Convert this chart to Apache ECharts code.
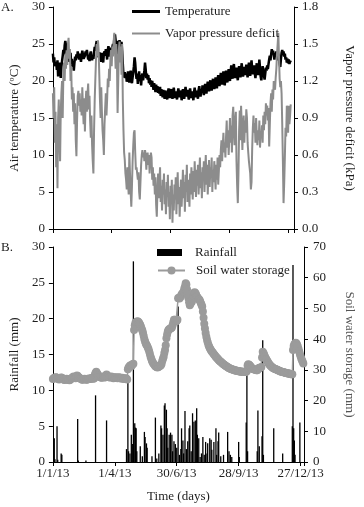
<!DOCTYPE html>
<html>
<head>
<meta charset="utf-8">
<script src="https://cdn.jsdelivr.net/npm/echarts@6/dist/echarts.min.js"></script>
<style>
  html, body { margin: 0; padding: 0; background: #fff; }
  #chart { width: 364px; height: 507px; }
</style>
</head>
<body>
<div id="chart"></div>
<script>
// daily values, day 0 = 1/1/13
const temperature = [
  23.7, 22.5, 23.2, 22.0, 21.9, 22.6, 21.5, 22.8, 20.6, 22.3,
  21.2, 22.5, 20.4, 21.9, 22.7, 23.4, 24.2, 23.5, 24.8, 25.4,
  25.2, 24.1, 23.2, 23.9, 22.6, 23.5, 22.8, 23.8, 22.3, 23.0,
  21.9, 22.4, 21.4, 22.5, 23.3, 22.8, 23.6, 23.1, 24.0, 23.4,
  22.9, 23.7, 23.2, 22.6, 23.5, 24.1, 23.6, 23.0, 22.8, 23.4,
  24.0, 23.7, 24.2, 23.5, 22.9, 23.3, 22.7, 23.6, 24.0, 23.3,
  22.8, 23.5, 23.0, 23.9, 24.6, 24.1, 24.9, 25.4, 24.6, 23.6,
  23.2, 23.9, 22.8, 23.5, 22.6, 23.8, 23.2, 22.5, 23.7, 24.0,
  23.4, 24.3, 23.8, 22.9, 24.2, 24.7, 24.0, 23.3, 24.5, 24.1,
  23.5, 24.6, 25.0, 24.4, 25.8, 26.3, 25.5, 24.2, 23.6, 24.8,
  25.4, 24.9, 25.5, 25.2, 24.6, 25.3, 24.0, 22.3, 20.8, 20.5,
  21.2, 20.4, 21.0, 19.9, 20.7, 21.3, 20.2, 19.8, 20.6, 21.4,
  20.3, 19.7, 20.5, 21.2, 22.0, 23.2, 22.4, 21.1, 20.3, 21.0,
  19.6, 20.5, 21.3, 20.0, 20.8, 19.4, 20.6, 21.0, 20.1, 20.7,
  21.4, 22.5, 21.6, 20.4, 21.0, 20.2, 20.8, 19.7, 20.4, 19.5,
  20.1, 19.2, 20.0, 19.4, 18.8, 19.7, 19.1, 18.5, 19.5, 18.7,
  19.3, 18.4, 19.0, 18.3, 19.2, 18.0, 18.9, 18.4, 17.8, 18.8,
  18.2, 17.6, 18.7, 18.9, 18.1, 17.5, 18.4, 19.0, 18.2, 17.7,
  18.6, 18.9, 18.0, 17.6, 18.5, 19.1, 18.3, 17.7, 18.6, 18.1,
  17.5, 18.4, 19.0, 18.2, 17.8, 18.7, 18.3, 17.4, 18.2, 18.9,
  18.0, 17.6, 18.5, 19.2, 18.4, 17.9, 18.8, 18.1, 17.5, 18.3,
  19.0, 18.2, 17.7, 18.6, 18.0, 17.4, 18.5, 19.1, 18.3, 17.8,
  18.7, 18.2, 17.6, 18.8, 19.3, 18.5, 17.9, 18.9, 18.4, 19.4,
  18.6, 18.1, 19.0, 19.6, 18.8, 18.3, 19.3, 19.9, 19.1, 18.6,
  19.5, 20.1, 19.2, 18.7, 19.6, 20.3, 19.4, 18.9, 19.8, 20.5,
  19.6, 19.0, 20.2, 20.8, 19.9, 19.3, 20.4, 21.1, 20.2, 19.5,
  20.6, 21.3, 20.0, 19.4, 20.7, 21.4, 20.5, 19.8, 20.9, 21.6,
  20.6, 20.0, 21.2, 22.1, 21.0, 20.3, 21.5, 22.3, 21.2, 20.4,
  21.0, 21.8, 20.7, 20.1, 21.3, 22.0, 21.1, 20.5, 21.7, 22.4,
  21.3, 20.6, 21.2, 21.9, 20.8, 21.5, 22.2, 21.2, 20.5, 21.6,
  22.5, 21.4, 20.7, 21.9, 22.8, 21.6, 20.9, 21.3, 22.1, 21.0,
  20.4, 21.5, 22.4, 21.3, 20.8, 21.8, 22.9, 21.7, 20.6, 20.1,
  21.0, 22.0, 21.4, 21.3, 20.2, 21.0, 21.8, 21.4, 22.1, 21.6,
  22.3, 22.9, 23.4, 22.8, 23.6, 24.3, 23.7, 24.1, 23.5, 22.9,
  23.8, 23.3, 24.0, 23.4, 22.8, 23.7, 23.2, 22.3, 21.9, 23.0,
  23.8, 24.2, 23.5, 24.0, 23.3, 23.7, 22.9, 23.2, 22.5, 23.0,
  22.4, 22.9, 22.3, 22.7, 22.5
];

const vpd = [
  1.10, 0.90, 1.15, 0.70, 0.95, 0.50, 0.85, 0.33, 0.90, 1.05,
  0.75, 0.55, 0.95, 1.10, 1.20, 0.90, 1.25, 1.35, 1.20, 1.42,
  1.30, 1.45, 1.33, 1.50, 1.55, 1.38, 1.46, 1.20, 1.32, 1.05,
  1.15, 0.95, 1.10, 0.85, 1.02, 0.72, 0.59, 0.88, 1.08, 1.12,
  1.00, 1.10, 0.95, 1.05, 0.92, 1.15, 0.98, 0.85, 1.06, 0.79,
  1.02, 1.12, 0.95, 1.10, 1.18, 0.97, 1.08, 0.88, 0.74, 0.92,
  0.68, 0.55, 0.45, 0.80, 1.05, 1.22, 1.38, 1.50, 1.40, 1.53,
  1.45, 1.25, 1.05, 0.90, 1.15, 0.95, 0.80, 0.72, 0.60, 0.85,
  0.98, 1.10, 0.92, 1.05, 1.22, 1.15, 1.30, 1.20, 1.38, 1.45,
  1.32, 1.48, 1.40, 1.52, 1.59, 1.46, 1.30, 1.50, 1.38, 0.94,
  1.20, 1.45, 1.52, 1.35, 1.48, 1.25, 1.50, 1.05, 0.80, 0.62,
  0.56, 0.45, 0.40, 0.32, 0.50, 0.38, 0.28, 0.62, 0.45, 0.30,
  0.18, 0.35, 0.55, 0.68, 0.78, 0.80, 0.62, 0.48, 0.50, 0.45,
  0.40, 0.46, 0.30, 0.24, 0.38, 0.52, 0.60, 0.64, 0.58, 0.62,
  0.55, 0.64, 0.60, 0.48, 0.58, 0.62, 0.52, 0.60, 0.45, 0.56,
  0.62, 0.58, 0.40, 0.50, 0.35, 0.45, 0.28, 0.42, 0.20, 0.10,
  0.30, 0.45, 0.25, 0.38, 0.50, 0.22, 0.35, 0.15, 0.40, 0.28,
  0.45, 0.20, 0.32, 0.12, 0.38, 0.26, 0.44, 0.18, 0.30, 0.08,
  0.35, 0.22, 0.40, 0.05, 0.28, 0.15, 0.36, 0.24, 0.42, 0.12,
  0.30, 0.46, 0.20, 0.34, 0.10, 0.28, 0.40, 0.18, 0.32, 0.48,
  0.25, 0.38, 0.14, 0.44, 0.30, 0.52, 0.22, 0.40, 0.33, 0.18,
  0.45, 0.28, 0.50, 0.36, 0.24, 0.47, 0.30, 0.55, 0.38, 0.26,
  0.48, 0.35, 0.52, 0.28, 0.44, 0.58, 0.33, 0.46, 0.25, 0.50,
  0.40, 0.55, 0.30, 0.48, 0.60, 0.36, 0.52, 0.28, 0.45, 0.56,
  0.34, 0.50, 0.42, 0.58, 0.30, 0.48, 0.38, 0.55, 0.44, 0.32,
  0.52, 0.40, 0.58, 0.36, 0.47, 0.60, 0.50, 0.64, 0.72, 0.55,
  0.68, 0.78, 0.62, 0.70, 0.58, 0.75, 0.88, 0.66, 0.80, 0.60,
  0.74, 0.90, 0.70, 0.84, 0.62, 0.92, 0.99, 0.80, 0.68, 0.88,
  0.95, 0.55, 0.35, 0.21, 0.45, 0.80, 0.96, 0.72, 1.00, 0.85,
  0.64, 0.82, 0.92, 0.70, 0.88, 0.78, 0.97, 0.90, 0.70, 0.62,
  0.55, 0.50, 0.45, 0.32, 0.38, 0.65, 0.82, 0.92, 0.78, 0.86,
  0.70, 0.90, 0.76, 0.68, 0.80, 0.72, 0.88, 0.66, 0.78, 0.74,
  0.84, 0.70, 0.92, 0.80, 0.95, 0.85, 1.02, 0.92, 1.00, 0.88,
  0.98, 0.67, 0.85, 1.02, 1.10, 0.95, 1.13, 1.05, 1.20, 1.15,
  1.13, 1.23, 1.30, 1.42, 1.50, 1.59, 1.40, 1.22, 1.15, 1.20,
  1.10, 0.85, 0.55, 0.21, 0.37, 0.58, 0.82, 0.75, 1.00, 0.98,
  0.78, 1.00, 0.85, 0.92, 1.01
];

const soilStorage = [
  27.0, 27.2, 27.4, 27.3, 27.6, 27.5, 27.4, 27.2, 27.0, 26.9,
  27.1, 27.3, 27.5, 27.4, 27.2, 27.0, 26.8, 26.7, 26.9, 27.0,
  27.1, 27.0, 26.8, 26.7, 26.6, 26.8, 27.0, 27.2, 27.4, 27.6,
  27.8, 27.6, 27.4, 27.3, 27.7, 28.2, 28.0, 27.7, 27.5, 27.3,
  27.2, 27.0, 26.9, 26.8, 26.9, 27.0, 27.1, 27.0, 26.9, 26.8,
  26.9, 27.0, 27.2, 27.1, 27.0, 27.1, 27.3, 27.4, 27.2, 27.1,
  27.3, 28.4, 29.0, 29.4, 29.0, 28.6, 28.2, 27.9, 27.7, 27.6,
  27.5, 27.4, 27.6, 27.8, 27.7, 27.5, 27.6, 28.2, 28.5, 28.2,
  27.9, 27.7, 27.6, 27.5, 27.7, 27.8, 27.6, 27.5, 27.3, 27.4,
  27.5, 27.6, 27.5, 27.4, 27.3, 27.4, 27.6, 27.5, 27.3, 27.2,
  27.3, 27.4, 27.2, 27.1, 27.0, 27.2, 27.3, 27.1, 26.9, 30.2,
  30.8, 31.0, 31.3, 31.5, 31.2, 31.6, 31.8, 32.0, 43.0, 44.5,
  45.3, 45.6, 45.7, 45.8, 45.7, 45.4, 45.0, 44.6, 44.0, 43.4,
  42.8, 42.0, 41.0, 40.0, 39.2, 38.6, 38.2, 37.8, 37.3, 36.7,
  36.0, 35.2, 34.3, 33.6, 33.0, 32.5, 32.1, 31.8, 31.5, 31.2,
  31.0, 30.9, 30.8, 30.9, 31.0, 31.2, 31.4, 31.5, 32.0, 33.0,
  33.6, 34.3, 35.5, 36.5, 38.0, 40.3, 41.5, 42.5, 43.0, 43.2,
  43.4, 43.5, 43.6, 43.8, 44.5, 45.5, 46.3, 46.3, 46.0, 45.8,
  46.0, 46.3, 53.3, 53.5, 53.2, 53.6, 54.0, 54.5, 54.8, 55.0,
  55.5, 56.5, 57.1, 58.2, 57.8, 56.2, 54.5, 53.3, 52.0, 51.0,
  51.5, 52.0, 52.2, 53.0, 54.2, 55.0, 55.3, 55.0, 54.6, 54.0,
  53.6, 53.3, 53.0, 52.8, 52.3, 51.8, 51.2, 50.6, 49.0, 47.0,
  45.0, 43.5, 42.0, 40.8, 39.8, 39.0, 38.2, 37.6, 37.1, 36.7,
  36.3, 36.0, 35.7, 35.4, 35.1, 34.8, 34.5, 34.2, 34.0, 33.7,
  33.5, 33.2, 33.0, 32.8, 32.6, 32.4, 32.2, 32.0, 31.8, 31.7,
  31.5, 31.3, 31.2, 31.0, 30.9, 30.7, 30.6, 30.5, 30.4, 30.3,
  30.2, 30.1, 30.0, 30.0, 29.9, 29.8, 29.8, 29.7, 29.7, 29.6,
  29.6, 29.5, 29.5, 29.5, 29.4, 29.4, 29.4, 29.4, 29.3, 29.3,
  29.3, 29.4, 29.6, 31.4, 31.8, 31.7, 31.5, 31.2, 30.9, 30.6,
  30.4, 30.3, 30.2, 30.1, 30.0, 30.0, 29.9, 29.9, 30.2, 30.5,
  30.6, 30.7, 30.8, 30.9, 34.0, 35.9, 35.5, 35.0, 34.4, 33.9,
  33.5, 33.1, 32.7, 32.3, 32.0, 31.7, 31.4, 31.2, 31.0, 30.8,
  30.6, 30.5, 30.4, 30.3, 30.2, 30.1, 30.0, 29.9, 29.8, 29.7,
  29.6, 29.5, 29.4, 29.4, 29.3, 29.2, 29.2, 29.1, 29.0, 29.0,
  28.9, 28.9, 28.8, 28.8, 28.7, 28.7, 28.6, 28.6, 28.6, 36.5,
  37.8, 38.3, 38.6, 38.8, 38.6, 38.2, 37.6, 36.8, 36.0, 35.2,
  34.4, 33.7, 33.1, 32.6, 32.1
];

// rain days (day index) and amounts (mm); other days are dry
const rainDays = [
  2, 3, 6, 7, 12, 13, 36, 37, 48, 62, 78,
  107, 109, 110, 112, 114, 116, 117, 119, 120, 121, 122, 127, 130, 133, 134, 136, 137,
  144, 149, 151, 154, 157, 158, 160, 162, 163, 165, 166, 167, 169, 171, 173, 174, 176,
  178, 180, 182, 184, 186, 187, 189, 190, 192, 194, 196, 198, 199, 201, 203, 205, 207,
  209, 210, 212, 214, 216, 218, 220, 222, 224, 225, 228, 230, 231, 234, 237, 238, 240,
  241, 244, 248, 254, 256, 258, 260, 270, 271, 281, 282, 283, 297, 298, 300, 304, 305,
  306, 321, 334, 348, 349, 350, 351, 352, 359
];
const rainMm = [
  3.3, 0.4, 5.0, 0.3, 1.2, 1.0, 6.0, 0.2, 0.2, 9.3, 5.8,
  1.8, 11.4, 1.5, 1.2, 3.8, 2.5, 28.0, 5.4, 4.8, 4.7, 1.5, 2.2, 0.8, 4.2, 3.5, 2.6, 2.0,
  0.8, 6.2, 0.5, 1.2, 5.1, 4.7, 3.8, 7.9, 8.2, 7.3, 4.7, 2.0, 3.8, 4.1, 3.8, 1.5, 2.9,
  2.5, 2.0, 21.7, 1.0, 1.8, 4.7, 3.0, 1.2, 7.1, 1.8, 2.9, 4.7, 5.1, 1.5, 6.8, 5.6, 5.8,
  7.5, 3.8, 3.3, 0.7, 1.2, 3.5, 1.0, 2.8, 1.2, 2.6, 3.3, 3.1, 1.7, 2.8, 4.7, 1.0, 2.9,
  4.1, 0.8, 1.0, 4.2, 1.5, 1.0, 0.7, 2.8, 0.7, 5.5, 13.0, 1.5, 1.5, 7.2, 2.2, 3.6, 17.0,
  1.0, 4.7, 1.2, 5.0, 27.5, 4.7, 3.0, 1.0, 5.5
];

const dateTicks = ['1/1/13', '1/4/13', '30/6/13', '28/9/13', '27/12/13'];

const serif = 'Liberation Serif';
const ink = '#1e1e1e';
const grey = '#8c8c8c';
const dotGrey = '#9b9b9b';

const chart = echarts.init(document.getElementById('chart'), null, { renderer: 'canvas' });

function yAx(opts) {
  return Object.assign({
    type: 'value',
    splitLine: { show: false },
    axisLine: { show: true, lineStyle: { color: '#000', width: 1 } },
    axisTick: { show: true, inside: false, length: 4, lineStyle: { color: '#000' } },
    axisLabel: { color: ink, fontFamily: serif, fontSize: 13, margin: 8 },
    nameLocation: 'middle',
    nameTextStyle: { color: ink, fontFamily: serif, fontSize: 13 }
  }, opts);
}

function xAx(opts) {
  return Object.assign({
    type: 'value',
    min: 0,
    interval: 90,
    splitLine: { show: false },
    axisLine: { show: true, onZero: false, lineStyle: { color: '#000', width: 1 } },
    axisTick: { show: true, inside: false, length: 4, lineStyle: { color: '#000' } }
  }, opts);
}

const legendText = { color: ink, fontFamily: serif, fontSize: 13 };

chart.setOption({
  animation: false,
  backgroundColor: '#fff',
  textStyle: { fontFamily: serif },
  grid: [
    { left: 42, top: 7, width: 270, height: 222 },
    { left: 41, top: 247, width: 274, height: 215 }
  ],
  xAxis: [
    xAx({ gridIndex: 0, max: 369, axisLabel: { show: false } }),
    xAx({
      gridIndex: 1, max: 365,
      axisLabel: {
        color: ink, fontFamily: serif, fontSize: 13, margin: 5,
        formatter: v => (v % 90 === 0 ? dateTicks[v / 90] : '')
      },
      name: 'Time (days)', nameLocation: 'middle', nameGap: 28,
      nameTextStyle: { color: ink, fontFamily: serif, fontSize: 13 }
    })
  ],
  yAxis: [
    yAx({ gridIndex: 0, position: 'left', min: 0, max: 30, interval: 5,
      name: 'Air temperature (ºC)', nameGap: 31, nameRotate: 90 }),
    yAx({ gridIndex: 0, position: 'right', min: 0, max: 1.8, interval: 0.3,
      axisLabel: { color: ink, fontFamily: serif, fontSize: 13, margin: 8, formatter: v => v.toFixed(1) },
      name: 'Vapor pressure deficit (kPa)', nameGap: 49, nameRotate: -90 }),
    yAx({ gridIndex: 1, position: 'left', min: 0, max: 30, interval: 5,
      name: 'Rainfall (mm)', nameGap: 31, nameRotate: 90 }),
    yAx({ gridIndex: 1, position: 'right', min: 0, max: 70, interval: 10,
      axisLabel: { color: ink, fontFamily: serif, fontSize: 13, margin: 9 },
      name: 'Soil water storage (mm)', nameGap: 39, nameRotate: -90,
      nameTextStyle: { color: '#555', fontFamily: serif, fontSize: 13 } })
  ],
  legend: [
    {
      data: [{ name: 'Temperature', icon: 'rect' }],
      left: 132, top: 5, padding: 0, itemWidth: 28, itemHeight: 3,
      textStyle: legendText
    },
    {
      data: [{ name: 'Vapor pressure deficit', icon: 'rect' }],
      left: 132, top: 27, padding: 0, itemWidth: 28, itemHeight: 2,
      textStyle: legendText
    },
    {
      data: [{ name: 'Rainfall', icon: 'rect' }],
      left: 157, top: 246, padding: 0, itemWidth: 25, itemHeight: 7,
      textStyle: Object.assign({ padding: [0, 0, 0, 8] }, legendText)
    },
    {
      data: ['Soil water storage'],
      left: 157, top: 264, padding: 0, itemWidth: 27, itemHeight: 10,
      textStyle: Object.assign({ padding: [0, 0, 0, 6] }, legendText)
    }
  ],
  graphic: [
    { type: 'text', left: 1, top: 1, style: { text: 'A.', fill: ink, font: '13px "Liberation Serif"' } },
    { type: 'text', left: 1, top: 241, style: { text: 'B.', fill: ink, font: '13px "Liberation Serif"' } }
  ],
  series: [
    {
      name: 'Temperature', type: 'line', xAxisIndex: 0, yAxisIndex: 0,
      data: temperature.map((v, i) => [i, v]),
      symbol: 'none', lineStyle: { color: '#000', width: 2.5 }, itemStyle: { color: '#000' }, z: 2
    },
    {
      name: 'Vapor pressure deficit', type: 'line', xAxisIndex: 0, yAxisIndex: 1,
      data: vpd.map((v, i) => [i, v]),
      symbol: 'none', lineStyle: { color: grey, width: 2 }, itemStyle: { color: grey }, z: 3
    },
    {
      name: 'Rainfall', type: 'bar', xAxisIndex: 1, yAxisIndex: 2,
      data: rainDays.map((d, i) => [d, rainMm[i]]),
      barWidth: 1.3, itemStyle: { color: '#000' }, z: 2
    },
    {
      name: 'Soil water storage', type: 'line', xAxisIndex: 1, yAxisIndex: 3,
      data: soilStorage.map((v, i) => [i, v]),
      symbol: 'circle', symbolSize: 8, showAllSymbol: true,
      lineStyle: { color: dotGrey, width: 1.5 },
      itemStyle: { color: dotGrey }, z: 3
    }
  ]
});
</script>
</body>
</html>
